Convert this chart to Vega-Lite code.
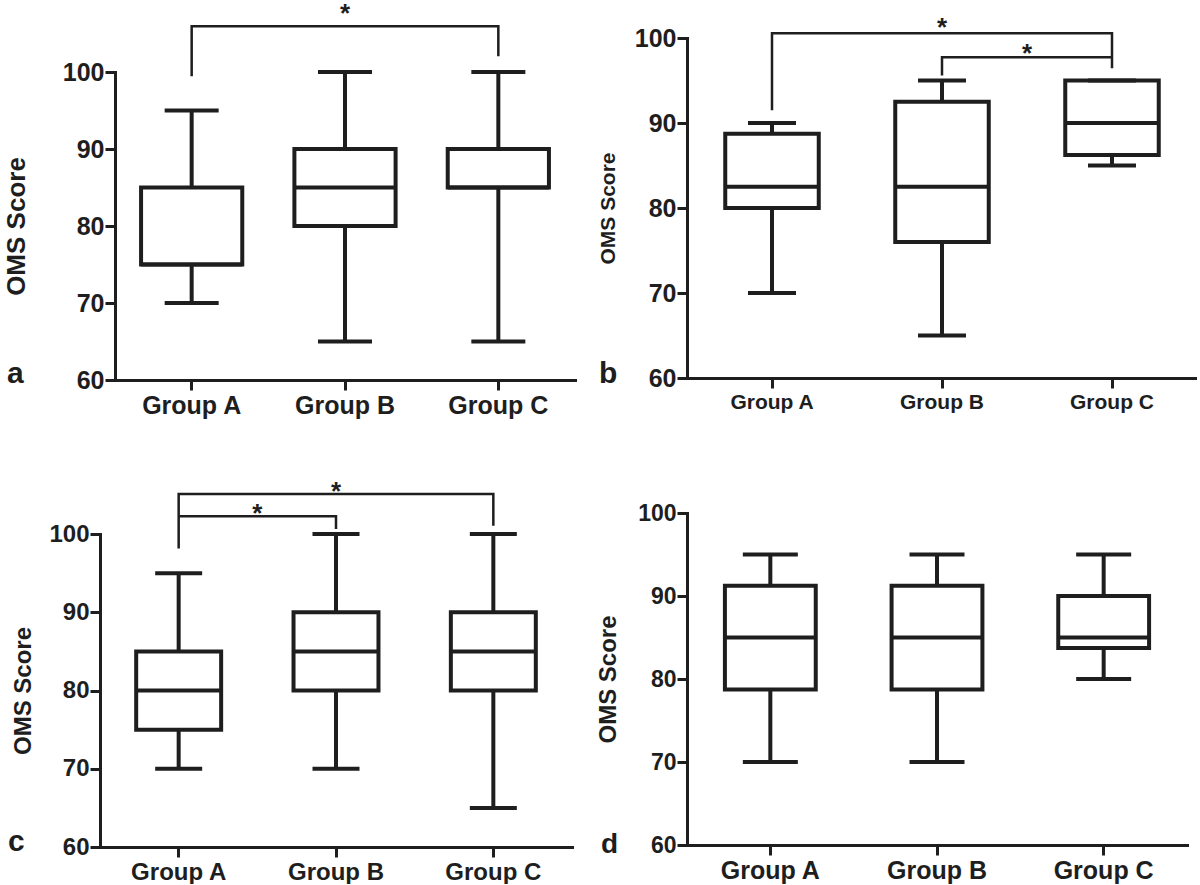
{
  "$schema": "https://vega.github.io/schema/vega-lite/v6.json",
  "padding": {"left": 3, "top": 0, "right": 0, "bottom": 0},
  "background": "white",
  "datasets": {
    "boxes": [
      {"panel": "a", "group": "Group A", "lower": 70, "q1": 75, "median": 75, "q3": 85, "upper": 95},
      {"panel": "a", "group": "Group B", "lower": 65, "q1": 80, "median": 85, "q3": 90, "upper": 100},
      {"panel": "a", "group": "Group C", "lower": 65, "q1": 85, "median": 85, "q3": 90, "upper": 100},
      {"panel": "b", "group": "Group A", "lower": 70, "q1": 80, "median": 82.5, "q3": 88.75, "upper": 90},
      {"panel": "b", "group": "Group B", "lower": 65, "q1": 76, "median": 82.5, "q3": 92.5, "upper": 95},
      {"panel": "b", "group": "Group C", "lower": 85, "q1": 86.25, "median": 90, "q3": 95, "upper": 95},
      {"panel": "c", "group": "Group A", "lower": 70, "q1": 75, "median": 80, "q3": 85, "upper": 95},
      {"panel": "c", "group": "Group B", "lower": 70, "q1": 80, "median": 85, "q3": 90, "upper": 100},
      {"panel": "c", "group": "Group C", "lower": 65, "q1": 80, "median": 85, "q3": 90, "upper": 100},
      {"panel": "d", "group": "Group A", "lower": 70, "q1": 78.75, "median": 85, "q3": 91.25, "upper": 95},
      {"panel": "d", "group": "Group B", "lower": 70, "q1": 78.75, "median": 85, "q3": 91.25, "upper": 95},
      {"panel": "d", "group": "Group C", "lower": 80, "q1": 83.75, "median": 85, "q3": 90, "upper": 95}
    ],
    "brackets": [
      {"panel": "a", "id": "a1", "ord": 1, "g": "Group A", "v": 99.44},
      {"panel": "a", "id": "a1", "ord": 2, "g": "Group A", "v": 105.93},
      {"panel": "a", "id": "a1", "ord": 3, "g": "Group C", "v": 105.93},
      {"panel": "a", "id": "a1", "ord": 4, "g": "Group C", "v": 102.04},
      {"panel": "b", "id": "b1", "ord": 1, "g": "Group A", "v": 91.5},
      {"panel": "b", "id": "b1", "ord": 2, "g": "Group A", "v": 100.55},
      {"panel": "b", "id": "b1", "ord": 3, "g": "Group C", "v": 100.55},
      {"panel": "b", "id": "b1", "ord": 4, "g": "Group C", "v": 96.44},
      {"panel": "b", "id": "b2", "ord": 1, "g": "Group B", "v": 95.6},
      {"panel": "b", "id": "b2", "ord": 2, "g": "Group B", "v": 97.73},
      {"panel": "b", "id": "b2", "ord": 3, "g": "Group C", "v": 97.73},
      {"panel": "c", "id": "c1", "ord": 1, "g": "Group A", "v": 98.15},
      {"panel": "c", "id": "c1", "ord": 2, "g": "Group A", "v": 105.1},
      {"panel": "c", "id": "c1", "ord": 3, "g": "Group C", "v": 105.1},
      {"panel": "c", "id": "c1", "ord": 4, "g": "Group C", "v": 101.06},
      {"panel": "c", "id": "c2", "ord": 1, "g": "Group A", "v": 102.26},
      {"panel": "c", "id": "c2", "ord": 2, "g": "Group B", "v": 102.26},
      {"panel": "c", "id": "c2", "ord": 3, "g": "Group B", "v": 100.64}
    ],
    "stars": [
      {"panel": "a", "g": "Group B", "pos": "center", "v": 108.5, "s": "*"},
      {"panel": "b", "g": "Group B", "pos": "center", "v": 101.96, "s": "*"},
      {"panel": "b", "g": "Group C", "pos": "edge", "v": 98.9, "s": "*"},
      {"panel": "c", "g": "Group B", "pos": "center", "v": 106.3, "s": "*"},
      {"panel": "c", "g": "Group B", "pos": "edge", "v": 103.4, "s": "*"}
    ],
    "letters": [
      {"panel": "a", "letter": "a"},
      {"panel": "b", "letter": "b"},
      {"panel": "c", "letter": "c"},
      {"panel": "d", "letter": "d"}
    ]
  },
  "hconcat": [
    {
      "spacing": 60,
      "vconcat": [
        {
          "width": 475, "height": 342,
          "layer": [
            {"data": {"name": "boxes"}, "transform": [{"filter": "datum.panel === 'a'"}],
             "mark": {"type": "rule", "stroke": "#1e1e1e", "strokeWidth": 4},
             "encoding": {
               "x": {"field": "group", "type": "nominal", "scale": {"domain": ["Group A", "Group B", "Group C"], "paddingInner": 0, "paddingOuter": 0, "range": [15, 475]}, "axis": {"title": null, "labelFontSize": 25}},
               "y": {"field": "lower", "type": "quantitative", "scale": {"domain": [60, 100], "nice": false, "zero": false, "range": [342, 34]}, "axis": {"title": "OMS Score", "values": [60, 70, 80, 90, 100], "labelFontSize": 25, "titleFontSize": 26, "titlePadding": 33, "offset": -15}},
               "y2": {"field": "upper"}
             }},
            {"data": {"name": "boxes"}, "transform": [{"filter": "datum.panel === 'a'"}],
             "mark": {"type": "bar", "fill": "white", "stroke": "#1e1e1e", "strokeWidth": 4, "width": {"band": 0.66}},
             "encoding": {"x": {"field": "group", "type": "nominal"}, "y": {"field": "q1", "type": "quantitative"}, "y2": {"field": "q3"}}},
            {"data": {"name": "boxes"}, "transform": [{"filter": "datum.panel === 'a'"}],
             "mark": {"type": "tick", "color": "#1e1e1e", "opacity": 1, "thickness": 4, "size": 101},
             "encoding": {"x": {"field": "group", "type": "nominal"}, "y": {"field": "median", "type": "quantitative"}}},
            {"data": {"name": "boxes"}, "transform": [{"filter": "datum.panel === 'a'"}, {"fold": ["lower", "upper"], "as": ["k", "cap"]}],
             "mark": {"type": "tick", "color": "#1e1e1e", "opacity": 1, "thickness": 4, "size": 54},
             "encoding": {"x": {"field": "group", "type": "nominal"}, "y": {"field": "cap", "type": "quantitative"}}},
            {"data": {"name": "brackets"}, "transform": [{"filter": "datum.panel === 'a'"}],
             "mark": {"type": "line", "stroke": "#1e1e1e", "strokeWidth": 2.5, "strokeJoin": "miter", "strokeCap": "butt"},
             "encoding": {"x": {"field": "g", "type": "nominal"}, "y": {"field": "v", "type": "quantitative"}, "detail": {"field": "id"}, "order": {"field": "ord"}}},
            {"data": {"name": "stars"}, "transform": [{"filter": "datum.panel === 'a' && datum.pos === 'center'"}],
             "mark": {"type": "text", "fontSize": 26, "fontWeight": "bold", "baseline": "top", "dy": -6, "color": "#1e1e1e"},
             "encoding": {"x": {"field": "g", "type": "nominal", "bandPosition": 0.5}, "y": {"field": "v", "type": "quantitative"}, "text": {"field": "s"}}},
            {"data": {"name": "letters"}, "transform": [{"filter": "datum.panel === 'a'"}],
             "mark": {"type": "text", "fontSize": 30, "fontWeight": "bold", "align": "left", "baseline": "alphabetic", "dx": -108, "dy": 3, "color": "#1e1e1e"},
             "encoding": {"x": {"datum": "Group A", "bandPosition": 0}, "y": {"datum": 60}, "text": {"field": "letter"}}}
          ]
        },
        {
          "width": 472, "height": 335,
          "layer": [
            {"data": {"name": "boxes"}, "transform": [{"filter": "datum.panel === 'c'"}],
             "mark": {"type": "rule", "stroke": "#1e1e1e", "strokeWidth": 4},
             "encoding": {
               "x": {"field": "group", "type": "nominal", "scale": {"domain": ["Group A", "Group B", "Group C"], "paddingInner": 0, "paddingOuter": 0}, "axis": {"title": null, "labelFontSize": 24}},
               "y": {"field": "lower", "type": "quantitative", "scale": {"domain": [60, 100], "nice": false, "zero": false, "range": [335, 22]}, "axis": {"title": "OMS Score", "values": [60, 70, 80, 90, 100], "labelFontSize": 24, "titleFontSize": 24, "titlePadding": 13}},
               "y2": {"field": "upper"}
             }},
            {"data": {"name": "boxes"}, "transform": [{"filter": "datum.panel === 'c'"}],
             "mark": {"type": "bar", "fill": "white", "stroke": "#1e1e1e", "strokeWidth": 4, "width": {"band": 0.54}},
             "encoding": {"x": {"field": "group", "type": "nominal"}, "y": {"field": "q1", "type": "quantitative"}, "y2": {"field": "q3"}}},
            {"data": {"name": "boxes"}, "transform": [{"filter": "datum.panel === 'c'"}],
             "mark": {"type": "tick", "color": "#1e1e1e", "opacity": 1, "thickness": 4, "size": 85},
             "encoding": {"x": {"field": "group", "type": "nominal"}, "y": {"field": "median", "type": "quantitative"}}},
            {"data": {"name": "boxes"}, "transform": [{"filter": "datum.panel === 'c'"}, {"fold": ["lower", "upper"], "as": ["k", "cap"]}],
             "mark": {"type": "tick", "color": "#1e1e1e", "opacity": 1, "thickness": 4, "size": 47},
             "encoding": {"x": {"field": "group", "type": "nominal"}, "y": {"field": "cap", "type": "quantitative"}}},
            {"data": {"name": "brackets"}, "transform": [{"filter": "datum.panel === 'c'"}],
             "mark": {"type": "line", "stroke": "#1e1e1e", "strokeWidth": 2.5, "strokeJoin": "miter", "strokeCap": "butt"},
             "encoding": {"x": {"field": "g", "type": "nominal"}, "y": {"field": "v", "type": "quantitative"}, "detail": {"field": "id"}, "order": {"field": "ord"}}},
            {"data": {"name": "stars"}, "transform": [{"filter": "datum.panel === 'c' && datum.pos === 'center'"}],
             "mark": {"type": "text", "fontSize": 26, "fontWeight": "bold", "baseline": "top", "dy": -6, "color": "#1e1e1e"},
             "encoding": {"x": {"field": "g", "type": "nominal", "bandPosition": 0.5}, "y": {"field": "v", "type": "quantitative"}, "text": {"field": "s"}}},
            {"data": {"name": "stars"}, "transform": [{"filter": "datum.panel === 'c' && datum.pos === 'edge'"}],
             "mark": {"type": "text", "fontSize": 26, "fontWeight": "bold", "baseline": "top", "dy": -6, "color": "#1e1e1e"},
             "encoding": {"x": {"field": "g", "type": "nominal", "bandPosition": 0}, "y": {"field": "v", "type": "quantitative"}, "text": {"field": "s"}}},
            {"data": {"name": "letters"}, "transform": [{"filter": "datum.panel === 'c'"}],
             "mark": {"type": "text", "fontSize": 30, "fontWeight": "bold", "align": "left", "baseline": "alphabetic", "dx": -92, "dy": 4, "color": "#1e1e1e"},
             "encoding": {"x": {"datum": "Group A", "bandPosition": 0}, "y": {"datum": 60}, "text": {"field": "letter"}}}
          ]
        }
      ]
    },
    {
      "spacing": 90,
      "vconcat": [
        {
          "width": 510, "height": 340,
          "layer": [
            {"data": {"name": "boxes"}, "transform": [{"filter": "datum.panel === 'b'"}],
             "mark": {"type": "rule", "stroke": "#1e1e1e", "strokeWidth": 4},
             "encoding": {
               "x": {"field": "group", "type": "nominal", "scale": {"domain": ["Group A", "Group B", "Group C"], "paddingInner": 0, "paddingOuter": 0}, "axis": {"title": null, "labelFontSize": 21}},
               "y": {"field": "lower", "type": "quantitative", "scale": {"domain": [60, 100], "nice": false, "zero": false}, "axis": {"title": "OMS Score", "values": [60, 70, 80, 90, 100], "labelFontSize": 25, "titleFontSize": 21, "titlePadding": 16}},
               "y2": {"field": "upper"}
             }},
            {"data": {"name": "boxes"}, "transform": [{"filter": "datum.panel === 'b'"}],
             "mark": {"type": "bar", "fill": "white", "stroke": "#1e1e1e", "strokeWidth": 4, "width": {"band": 0.55}},
             "encoding": {"x": {"field": "group", "type": "nominal"}, "y": {"field": "q1", "type": "quantitative"}, "y2": {"field": "q3"}}},
            {"data": {"name": "boxes"}, "transform": [{"filter": "datum.panel === 'b'"}],
             "mark": {"type": "tick", "color": "#1e1e1e", "opacity": 1, "thickness": 4, "size": 93},
             "encoding": {"x": {"field": "group", "type": "nominal"}, "y": {"field": "median", "type": "quantitative"}}},
            {"data": {"name": "boxes"}, "transform": [{"filter": "datum.panel === 'b'"}, {"fold": ["lower", "upper"], "as": ["k", "cap"]}],
             "mark": {"type": "tick", "color": "#1e1e1e", "opacity": 1, "thickness": 4, "size": 48},
             "encoding": {"x": {"field": "group", "type": "nominal"}, "y": {"field": "cap", "type": "quantitative"}}},
            {"data": {"name": "brackets"}, "transform": [{"filter": "datum.panel === 'b'"}],
             "mark": {"type": "line", "stroke": "#1e1e1e", "strokeWidth": 2.5, "strokeJoin": "miter", "strokeCap": "butt"},
             "encoding": {"x": {"field": "g", "type": "nominal"}, "y": {"field": "v", "type": "quantitative"}, "detail": {"field": "id"}, "order": {"field": "ord"}}},
            {"data": {"name": "stars"}, "transform": [{"filter": "datum.panel === 'b' && datum.pos === 'center'"}],
             "mark": {"type": "text", "fontSize": 26, "fontWeight": "bold", "baseline": "top", "dy": -6, "color": "#1e1e1e"},
             "encoding": {"x": {"field": "g", "type": "nominal", "bandPosition": 0.5}, "y": {"field": "v", "type": "quantitative"}, "text": {"field": "s"}}},
            {"data": {"name": "stars"}, "transform": [{"filter": "datum.panel === 'b' && datum.pos === 'edge'"}],
             "mark": {"type": "text", "fontSize": 26, "fontWeight": "bold", "baseline": "top", "dy": -6, "color": "#1e1e1e"},
             "encoding": {"x": {"field": "g", "type": "nominal", "bandPosition": 0}, "y": {"field": "v", "type": "quantitative"}, "text": {"field": "s"}}},
            {"data": {"name": "letters"}, "transform": [{"filter": "datum.panel === 'b'"}],
             "mark": {"type": "text", "fontSize": 30, "fontWeight": "bold", "align": "left", "baseline": "alphabetic", "dx": -88, "dy": 5, "color": "#1e1e1e"},
             "encoding": {"x": {"datum": "Group A", "bandPosition": 0}, "y": {"datum": 60}, "text": {"field": "letter"}}}
          ]
        },
        {
          "width": 500, "height": 332,
          "layer": [
            {"data": {"name": "boxes"}, "transform": [{"filter": "datum.panel === 'd'"}],
             "mark": {"type": "rule", "stroke": "#1e1e1e", "strokeWidth": 4},
             "encoding": {
               "x": {"field": "group", "type": "nominal", "scale": {"domain": ["Group A", "Group B", "Group C"], "paddingInner": 0, "paddingOuter": 0}, "axis": {"title": null, "labelFontSize": 25}},
               "y": {"field": "lower", "type": "quantitative", "scale": {"domain": [60, 100], "nice": false, "zero": false}, "axis": {"title": "OMS Score", "values": [60, 70, 80, 90, 100], "labelFontSize": 23, "titleFontSize": 24, "titlePadding": 17}},
               "y2": {"field": "upper"}
             }},
            {"data": {"name": "boxes"}, "transform": [{"filter": "datum.panel === 'd'"}],
             "mark": {"type": "bar", "fill": "white", "stroke": "#1e1e1e", "strokeWidth": 4, "width": {"band": 0.545}},
             "encoding": {"x": {"field": "group", "type": "nominal"}, "y": {"field": "q1", "type": "quantitative"}, "y2": {"field": "q3"}}},
            {"data": {"name": "boxes"}, "transform": [{"filter": "datum.panel === 'd'"}],
             "mark": {"type": "tick", "color": "#1e1e1e", "opacity": 1, "thickness": 4, "size": 91},
             "encoding": {"x": {"field": "group", "type": "nominal"}, "y": {"field": "median", "type": "quantitative"}}},
            {"data": {"name": "boxes"}, "transform": [{"filter": "datum.panel === 'd'"}, {"fold": ["lower", "upper"], "as": ["k", "cap"]}],
             "mark": {"type": "tick", "color": "#1e1e1e", "opacity": 1, "thickness": 4, "size": 55},
             "encoding": {"x": {"field": "group", "type": "nominal"}, "y": {"field": "cap", "type": "quantitative"}}},
            {"data": {"name": "letters"}, "transform": [{"filter": "datum.panel === 'd'"}],
             "mark": {"type": "text", "fontSize": 28, "fontWeight": "bold", "align": "left", "baseline": "alphabetic", "dx": -86, "dy": 8, "color": "#1e1e1e"},
             "encoding": {"x": {"datum": "Group A", "bandPosition": 0}, "y": {"datum": 60}, "text": {"field": "letter"}}}
          ]
        }
      ]
    }
  ],
  "spacing": 21,
  "config": {
    "view": {"stroke": null},
    "font": "Liberation Sans",
    "axis": {
      "domainColor": "#1e1e1e", "domainWidth": 3, "domainCap": "square",
      "tickColor": "#1e1e1e", "tickWidth": 3, "tickSize": 10,
      "labelColor": "#1e1e1e", "labelFontWeight": "bold", "labelFont": "Liberation Sans",
      "titleColor": "#1e1e1e", "titleFontWeight": "bold", "titleFont": "Liberation Sans",
      "grid": false
    },
    "axisX": {"labelAngle": 0, "labelPadding": 3},
    "axisY": {"labelPadding": 1}
  }
}
